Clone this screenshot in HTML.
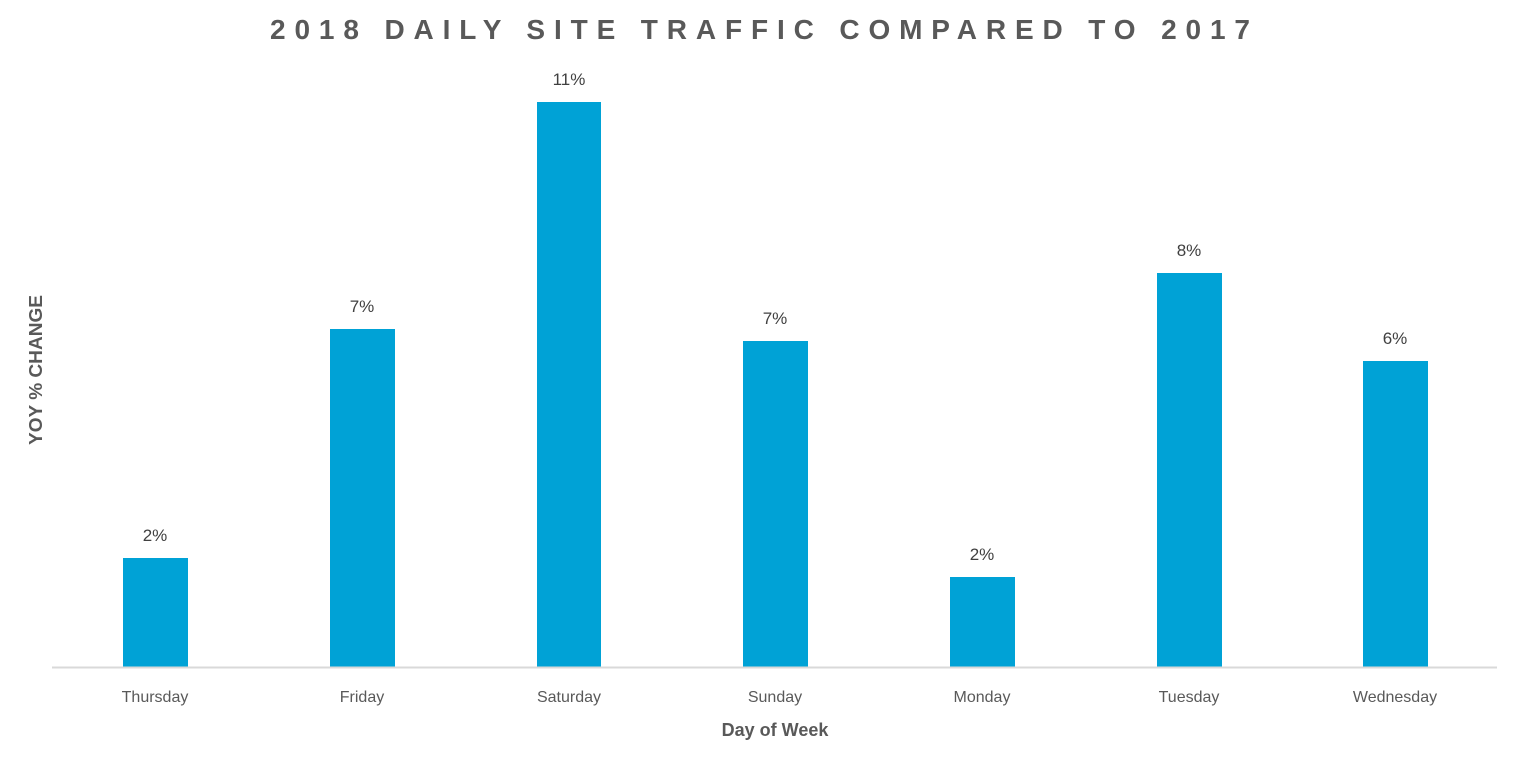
<!DOCTYPE html>
<html><head><meta charset="utf-8"><style>
html,body{margin:0;padding:0;background:#fff;}
</style></head><body>
<svg width="1515" height="762" viewBox="0 0 1515 762" xmlns="http://www.w3.org/2000/svg" font-family="Liberation Sans, sans-serif">
<text x="270" y="39" font-size="28" font-weight="bold" fill="#595959" textLength="980" lengthAdjust="spacing">2018 DAILY SITE TRAFFIC COMPARED TO 2017</text>
<g fill="#00A2D6">
<rect x="123" y="558" width="65" height="109"/>
<rect x="330" y="329" width="65" height="338"/>
<rect x="537" y="102" width="64" height="565"/>
<rect x="743" y="341" width="65" height="326"/>
<rect x="950" y="577" width="65" height="90"/>
<rect x="1157" y="273" width="65" height="394"/>
<rect x="1363" y="361" width="65" height="306"/>
</g>
<line x1="52" y1="667.5" x2="1497" y2="667.5" stroke="#d9d9d9" stroke-width="2"/>
<g font-size="17" fill="#404040" text-anchor="middle">
<text x="155" y="541">2%</text>
<text x="362" y="312">7%</text>
<text x="569" y="85">11%</text>
<text x="775" y="324">7%</text>
<text x="982" y="560">2%</text>
<text x="1189" y="256">8%</text>
<text x="1395" y="344">6%</text>
</g>
<g font-size="16" fill="#595959" text-anchor="middle">
<text x="155" y="702">Thursday</text>
<text x="362" y="702">Friday</text>
<text x="569" y="702">Saturday</text>
<text x="775" y="702">Sunday</text>
<text x="982" y="702">Monday</text>
<text x="1189" y="702">Tuesday</text>
<text x="1395" y="702">Wednesday</text>
</g>
<text x="775" y="736" font-size="18" font-weight="bold" fill="#595959" text-anchor="middle">Day of Week</text>
<text transform="translate(42,370) rotate(-90)" font-size="18" font-weight="bold" fill="#595959" text-anchor="middle" textLength="150" lengthAdjust="spacingAndGlyphs">YOY % CHANGE</text>
</svg>
</body></html>
